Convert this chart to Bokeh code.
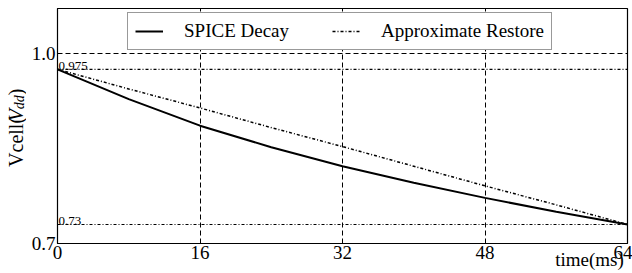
import math
from bokeh.plotting import figure
from bokeh.layouts import row
from bokeh.models import (FixedTicker, Span, Label, Legend, LegendItem, Range1d)
from bokeh.embed import file_html
from bokeh.resources import INLINE

# ---- data ----
time_ms = [0, 8, 16, 24, 32, 40, 48, 56, 64]
spice_decay = [0.975, 0.928, 0.886, 0.852, 0.822, 0.796, 0.772, 0.750, 0.730]
approx_restore = [0.975, 0.944, 0.914, 0.883, 0.853, 0.822, 0.791, 0.761, 0.730]
ref_levels = [0.975, 0.73]
ref_labels = ["0.975", "0.73"]
x_ticks = [0, 16, 32, 48, 64]
y_ticks = [0.7, 1.0]
y_tick_labels = {0.7: "0.7", 1.0: "1.0"}

FONT = "Liberation Serif"

# ---- narrow panel holding the rotated y-axis title Vcell(V_dd) ----
LW = 26
lf = figure(width=LW, height=273, output_backend="svg", toolbar_location=None,
            x_range=Range1d(0, LW), y_range=Range1d(273, 0),
            x_axis_type=None, y_axis_type=None, min_border=0)
lf.outline_line_color = None
lf.grid.visible = False
ang = math.pi / 2


def ylab(x, y, text, size, style="normal"):
    lf.add_layout(Label(x=x, y=y, angle=ang, text=text, text_font=FONT,
                        text_font_size=size, text_font_style=style,
                        text_color="black", text_align="left",
                        text_baseline="middle"))


ylab(15, 184, "Vcell(", "20px")
ylab(15, 131, "V", "20px", "italic")
ylab(19, 117, "dd", "14px", "italic")
ylab(15, 101, ")", "21px")

# ---- main plot ----
p = figure(width=632 - LW, height=273, output_backend="svg", toolbar_location=None,
           x_range=Range1d(0, 64), y_range=Range1d(0.7, 1.071),
           min_border_left=57 - LW, min_border_right=5, min_border_top=8,
           min_border_bottom=30)

p.background_fill_color = "white"
p.border_fill_color = "white"
p.outline_line_color = "black"
p.outline_line_width = 1.2
p.outline_line_alpha = 1

for ax in (p.xaxis[0], p.yaxis[0]):
    ax.major_label_text_font = FONT
    ax.major_label_text_font_size = "19px"
    ax.major_label_text_color = "black"
    ax.major_tick_out = 0
    ax.major_tick_in = 0
    ax.minor_tick_out = 0
    ax.minor_tick_in = 0
    ax.axis_line_color = "black"
    ax.major_label_standoff = 2

p.xaxis.ticker = FixedTicker(ticks=x_ticks)
p.yaxis.ticker = FixedTicker(ticks=y_ticks)
p.yaxis.major_label_overrides = y_tick_labels

# axis title sits at the right end of the x axis (centred on the end, so
# non-breaking spaces push the visible text left of the frame edge)
p.xaxis.axis_label = "time(ms)" + "\u00a0" * 16
p.xaxis.axis_label_align = "end"
p.xaxis.axis_label_standoff = -13
p.xaxis.axis_label_text_font = FONT
p.xaxis.axis_label_text_font_size = "19px"
p.xaxis.axis_label_text_font_style = "normal"
p.xaxis.axis_label_text_color = "black"

p.xgrid.ticker = FixedTicker(ticks=x_ticks)
p.ygrid.ticker = FixedTicker(ticks=y_ticks)
for g in (p.xgrid[0], p.ygrid[0]):
    g.grid_line_color = "black"
    g.grid_line_dash = "5 3"
    g.grid_line_width = 1
    g.grid_line_alpha = 1

for lv, lb in zip(ref_levels, ref_labels):
    p.add_layout(Span(location=lv, dimension="width", line_color="black",
                      line_dash="3 2 1 2", line_width=1.2))
    p.add_layout(Label(x=0, y=lv, text=lb, text_font=FONT, text_font_size="13px",
                       text_color="black", text_baseline="bottom", x_offset=1, y_offset=-1))

r1 = p.line(time_ms, spice_decay, line_color="black", line_width=2)
r2 = p.line(time_ms, approx_restore, line_color="black", line_width=1.5,
            line_dash="3 2 1 2")

legend = Legend(items=[LegendItem(label="SPICE Decay", renderers=[r1]),
                       LegendItem(label="Approximate Restore", renderers=[r2])],
                orientation="horizontal", location=(70, 193))
legend.label_text_font = FONT
legend.label_text_font_size = "19px"
legend.label_text_color = "black"
legend.glyph_width = 28
legend.label_standoff = 21
legend.spacing = 43
legend.padding = 7
legend.margin = 0
legend.border_line_color = "#333333"
legend.border_line_width = 1
legend.background_fill_alpha = 1
p.add_layout(legend, "center")

layout = row(lf, p, spacing=0)
open("out.html", "w").write(file_html(layout, INLINE))
